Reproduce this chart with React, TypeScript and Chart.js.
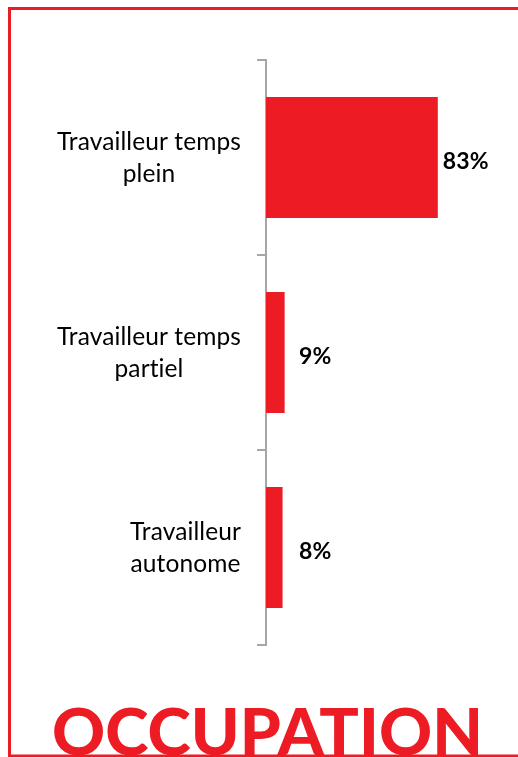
import React, { useEffect, useRef } from "react";
import { Chart, registerables } from "chart.js";

Chart.register(...registerables);

const categories: string[][] = [
  ["Travailleur temps", "plein"],
  ["Travailleur temps", "partiel"],
  ["Travailleur", "autonome"],
];
const values: number[] = [83, 9, 8];
const valueLabels: string[] = ["83%", "9%", "8%"];
const titleText = "OCCUPATION";

const RED = "#ED1C24";
const GRAY = "#A6A6A6";

const decorPlugin = {
  id: "decor",
  beforeDraw(chart: any) {
    const ctx = chart.ctx;
    ctx.save();
    ctx.fillStyle = "#ffffff";
    ctx.fillRect(0, 0, chart.width, chart.height);
    ctx.fillStyle = RED;
    ctx.fillRect(8, 7, chart.width - 8, 3);
    ctx.fillRect(8, 7, 3, chart.height - 7);
    ctx.fillRect(8, chart.height - 2.5, chart.width - 8, 2.5);
    ctx.restore();
  },
  afterDraw(chart: any) {
    const ctx = chart.ctx;
    const yScale = chart.scales.y;
    const meta = chart.getDatasetMeta(0);
    ctx.save();
    try {
      (ctx as any).letterSpacing = "0.1px";
    } catch (e) {}
    // category labels: block right-aligned, lines centred within the block
    ctx.fillStyle = "#000000";
    ctx.font = "24.5px Lato";
    ctx.textBaseline = "alphabetic";
    ctx.textAlign = "center";
    const blockRight = 241;
    const lh = 32;
    categories.forEach((lines, i) => {
      const cy = yScale.getPixelForValue(i);
      const bw = Math.max(...lines.map((l) => ctx.measureText(l).width));
      const cx = blockRight - bw / 2;
      lines.forEach((l, j) => {
        ctx.fillText(l, cx, cy + (j - (lines.length - 1) / 2) * lh + 8);
      });
    });
    // value labels
    ctx.font = "bold 23px Lato";
    ctx.textAlign = "left";
    meta.data.forEach((bar: any, i: number) => {
      const x = Math.max(bar.x + 5, chart.chartArea.left + 33);
      ctx.fillText(valueLabels[i], x, bar.y + 11);
    });
    // big title
    let size = 66;
    ctx.font = `900 ${size}px Lato`;
    const w = ctx.measureText(titleText).width;
    size = (size * 431) / w;
    ctx.font = `900 ${size}px Lato`;
    ctx.fillStyle = RED;
    ctx.textAlign = "center";
    ctx.fillText(titleText, 267.5, 755);
    ctx.restore();
  },
};

export default function App() {
  const ref = useRef<HTMLCanvasElement>(null);
  useEffect(() => {
    if (!ref.current) return;
    const chart = new Chart(ref.current, {
      type: "bar",
      data: {
        labels: categories.map((c) => c.join(" ")),
        datasets: [
          {
            data: values,
            backgroundColor: RED,
            borderWidth: 0,
            categoryPercentage: 1,
            barPercentage: 0.62,
          },
        ],
      },
      options: {
        indexAxis: "y",
        animation: false,
        responsive: false,
        layout: { padding: { left: 0, top: 60, right: 45, bottom: 112 } },
        plugins: { legend: { display: false }, tooltip: { enabled: false }, title: { display: false } },
        scales: {
          x: { display: false, min: 0, max: 100 },
          y: {
            afterFit: (scale: any) => {
              scale.width = 266;
            },
            grid: {
              offset: true,
              drawOnChartArea: false,
              drawTicks: true,
              tickLength: 9,
              color: GRAY,
              lineWidth: 2,
            },
            border: { display: true, color: GRAY, width: 2 },
            ticks: { display: false },
          },
        },
      },
      plugins: [decorPlugin],
    });
    return () => chart.destroy();
  }, []);
  return (
    <div style={{ position: "absolute", left: 0, top: 0, width: 518, height: 757 }}>
      <canvas ref={ref} width={518} height={757} style={{ display: "block" }} />
    </div>
  );
}
